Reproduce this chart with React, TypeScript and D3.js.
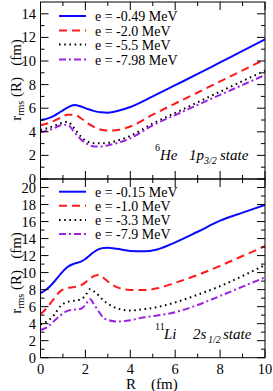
import React from "react";
import * as d3 from "d3";

// ---------- data ----------
const xTicks = [0, 2, 4, 6, 8, 10];
const topYTicks = [0, 2, 4, 6, 8, 10, 12, 14];
const botYTicks = [0, 2, 4, 6, 8, 10, 12, 14, 16, 18, 20];

const topLabels = ["e = -0.49 MeV", "e = -2.0 MeV", "e = -5.5 MeV", "e = -7.98 MeV"];
const botLabels = ["e = -0.15 MeV", "e = -1.0 MeV", "e = -3.3 MeV", "e = -7.9 MeV"];

const rTop = [0, 0.3, 0.6, 0.9, 1.2, 1.5, 1.8, 2.1, 2.4, 2.7, 3.0, 3.5, 4, 5, 6, 7, 8, 9, 10];
const topBlue = [5.0, 5.12, 5.35, 5.7, 6.05, 6.27, 6.15, 5.93, 5.75, 5.65, 5.62, 5.8, 6.1, 7.0, 7.95, 8.9, 9.88, 10.86, 11.84];
const topRed = [4.55, 4.7, 4.93, 5.2, 5.45, 5.45, 5.15, 4.72, 4.4, 4.17, 4.1, 4.17, 4.45, 5.45, 6.4, 7.33, 8.27, 9.2, 10.14];
const topDot = [4.15, 4.3, 4.5, 4.72, 4.86, 4.3, 3.6, 3.16, 3.03, 3.02, 3.07, 3.3, 3.65, 4.7, 5.6, 6.5, 7.4, 8.3, 9.18];
const topPurple = [3.95, 4.1, 4.3, 4.55, 4.6, 4.0, 3.35, 2.95, 2.76, 2.76, 2.85, 3.1, 3.45, 4.55, 5.42, 6.28, 7.13, 7.97, 8.81];

const rBot = [0, 0.3, 0.6, 0.9, 1.2, 1.5, 1.8, 2.0, 2.2, 2.4, 2.6, 2.8, 3.0, 3.4, 4.0, 4.6, 5.2, 6, 7, 8, 9, 10];
const botBlue = [7.6, 8.1, 8.9, 9.85, 10.65, 11.05, 11.3, 11.6, 12.05, 12.45, 12.75, 12.9, 12.92, 12.8, 12.55, 12.5, 12.72, 13.55, 14.8, 16.1, 17.05, 17.95];
const botRed = [5.1, 5.9, 6.95, 7.85, 8.2, 8.3, 8.5, 8.85, 9.3, 9.62, 9.72, 9.4, 8.95, 8.3, 7.97, 7.95, 8.15, 8.8, 9.72, 10.8, 11.95, 13.1];
const botDot = [3.9, 4.3, 5.0, 6.1, 6.55, 6.7, 6.85, 7.3, 8.05, 7.75, 7.3, 6.75, 6.35, 5.8, 5.55, 5.7, 5.95, 6.5, 7.4, 8.4, 9.6, 10.88];
const botPurple = [3.25, 3.6, 4.3, 5.0, 5.5, 5.65, 5.75, 6.2, 6.9, 6.2, 5.4, 4.7, 4.45, 4.25, 4.4, 4.75, 4.95, 5.35, 6.2, 7.25, 8.35, 9.44];

// ---------- styles ----------
const styles = [
  { color: "#0a0aff", dash: "", width: 2 },
  { color: "#ff1a1a", dash: "8,5", width: 2 },
  { color: "#000000", dash: "1.6,3.6", width: 2 },
  { color: "#9a22e0", dash: "7,3,2,3", width: 2 },
];

const FONT = "'Liberation Serif', 'Times New Roman', serif";

const x = d3.scaleLinear().domain([0, 10]).range([40.5, 265]);
const yTop = d3.scaleLinear().domain([0, 15]).range([179, 2]);
const yBot = d3.scaleLinear().domain([0, 21]).range([357.7, 179]);

function Panel({ y, yTicks, r, series, labels, legendY }: any) {
  const [y0, y1] = y.range();
  const [xa, xb] = x.range();
  const line = (vals: number[]) =>
    d3
      .line<number>()
      .x((_, i) => x(r[i]))
      .y((v) => y(v))
      .curve(d3.curveMonotoneX)(vals) as string;
  const maxY = y.domain()[1];
  const minorY = d3.range(1, maxY, 2);
  const minorX = d3.range(1, 10, 2);
  return (
    <g>
      <defs>
        <clipPath id={`clip${Math.round(y0)}`}>
          <rect x={xa} y={y1} width={xb - xa} height={y0 - y1} />
        </clipPath>
      </defs>
      <g clipPath={`url(#clip${Math.round(y0)})`}>
        {series.map((s: number[], i: number) => (
          <path
            key={i}
            d={line(s)}
            fill="none"
            stroke={styles[i].color}
            strokeWidth={styles[i].width}
            strokeDasharray={styles[i].dash || undefined}
          />
        ))}
      </g>
      <rect x={xa} y={y1} width={xb - xa} height={y0 - y1} fill="none" stroke="#000" strokeWidth={1} />
      {yTicks.map((t: number) => (
        <g key={"y" + t}>
          <line x1={xa} x2={xa + 8} y1={y(t)} y2={y(t)} stroke="#000" />
          <line x1={xb} x2={xb - 8} y1={y(t)} y2={y(t)} stroke="#000" />
          <text x={36} y={y(t) + 5} textAnchor="end" fontSize={14.5} fontFamily={FONT}>
            {t}
          </text>
        </g>
      ))}
      {minorY.map((t: number) => (
        <g key={"my" + t}>
          <line x1={xa} x2={xa + 4} y1={y(t)} y2={y(t)} stroke="#000" />
          <line x1={xb} x2={xb - 4} y1={y(t)} y2={y(t)} stroke="#000" />
        </g>
      ))}
      {xTicks.map((t) => (
        <g key={"x" + t}>
          <line x1={x(t)} x2={x(t)} y1={y0} y2={y0 - 8} stroke="#000" />
          <line x1={x(t)} x2={x(t)} y1={y1} y2={y1 + 8} stroke="#000" />
        </g>
      ))}
      {minorX.map((t) => (
        <g key={"mx" + t}>
          <line x1={x(t)} x2={x(t)} y1={y0} y2={y0 - 4} stroke="#000" />
          <line x1={x(t)} x2={x(t)} y1={y1} y2={y1 + 4} stroke="#000" />
        </g>
      ))}
      {labels.map((lab: string, i: number) => {
        const ly = legendY[i];
        return (
          <g key={"l" + i}>
            <line
              x1={59}
              x2={86}
              y1={ly}
              y2={ly}
              stroke={styles[i].color}
              strokeWidth={styles[i].width}
              strokeDasharray={styles[i].dash || undefined}
            />
            <text x={95} y={ly + 5} fontSize={14} fontFamily={FONT}>
              {lab}
            </text>
          </g>
        );
      })}
    </g>
  );
}

export default function App() {
  return (
    <svg
      width={273}
      height={391}
      style={{ position: "absolute", left: 0, top: 0, background: "#fff" }}
    >
      <rect width={273} height={391} fill="#fff" />
      <Panel
        y={yTop}
        yTicks={topYTicks}
        r={rTop}
        series={[topBlue, topRed, topDot, topPurple]}
        labels={topLabels}
        legendY={[16, 30.5, 44.5, 59.5]}
      />
      <Panel
        y={yBot}
        yTicks={botYTicks}
        r={rBot}
        series={[botBlue, botRed, botDot, botPurple]}
        labels={botLabels}
        legendY={[191.7, 205.8, 220, 234]}
      />
      {/* annotations */}
      <text fontFamily={FONT} fontStyle="italic" fontSize={15}>
        <tspan x={155} y={151} fontSize={10} fontStyle="normal">6</tspan>
        <tspan x={160} y={160}>He</tspan>
        <tspan x={189} y={160}>1p</tspan>
        <tspan x={204} y={164} fontSize={10}>3/2</tspan>
        <tspan x={220} y={160}>state</tspan>
      </text>
      <text fontFamily={FONT} fontStyle="italic" fontSize={15}>
        <tspan x={155} y={330} fontSize={10} fontStyle="normal">11</tspan>
        <tspan x={164} y={339}>Li</tspan>
        <tspan x={193} y={339}>2s</tspan>
        <tspan x={208} y={343} fontSize={10}>1/2</tspan>
        <tspan x={223} y={339}>state</tspan>
      </text>
      {/* x axis tick labels */}
      {xTicks.map((t) => (
        <text key={t} x={x(t)} y={374} textAnchor="middle" fontSize={14.5} fontFamily={FONT}>
          {t}
        </text>
      ))}
      <text fontFamily={FONT} fontSize={15}>
        <tspan x={126} y={389}>R</tspan>
        <tspan x={151} y={389}>(fm)</tspan>
      </text>
      {/* y axis labels */}
      {[80, 273].map((cy) => (
        <text
          key={cy}
          transform={`translate(21,${cy}) rotate(-90)`}
          textAnchor="middle"
          fontFamily={FONT}
          fontSize={15}
        >
          r<tspan fontSize={10} dy={3}>rms</tspan>
          <tspan dy={-3}>{"\u00a0(R)\u00a0\u00a0\u00a0(fm)"}</tspan>
        </text>
      ))}
    </svg>
  );
}
